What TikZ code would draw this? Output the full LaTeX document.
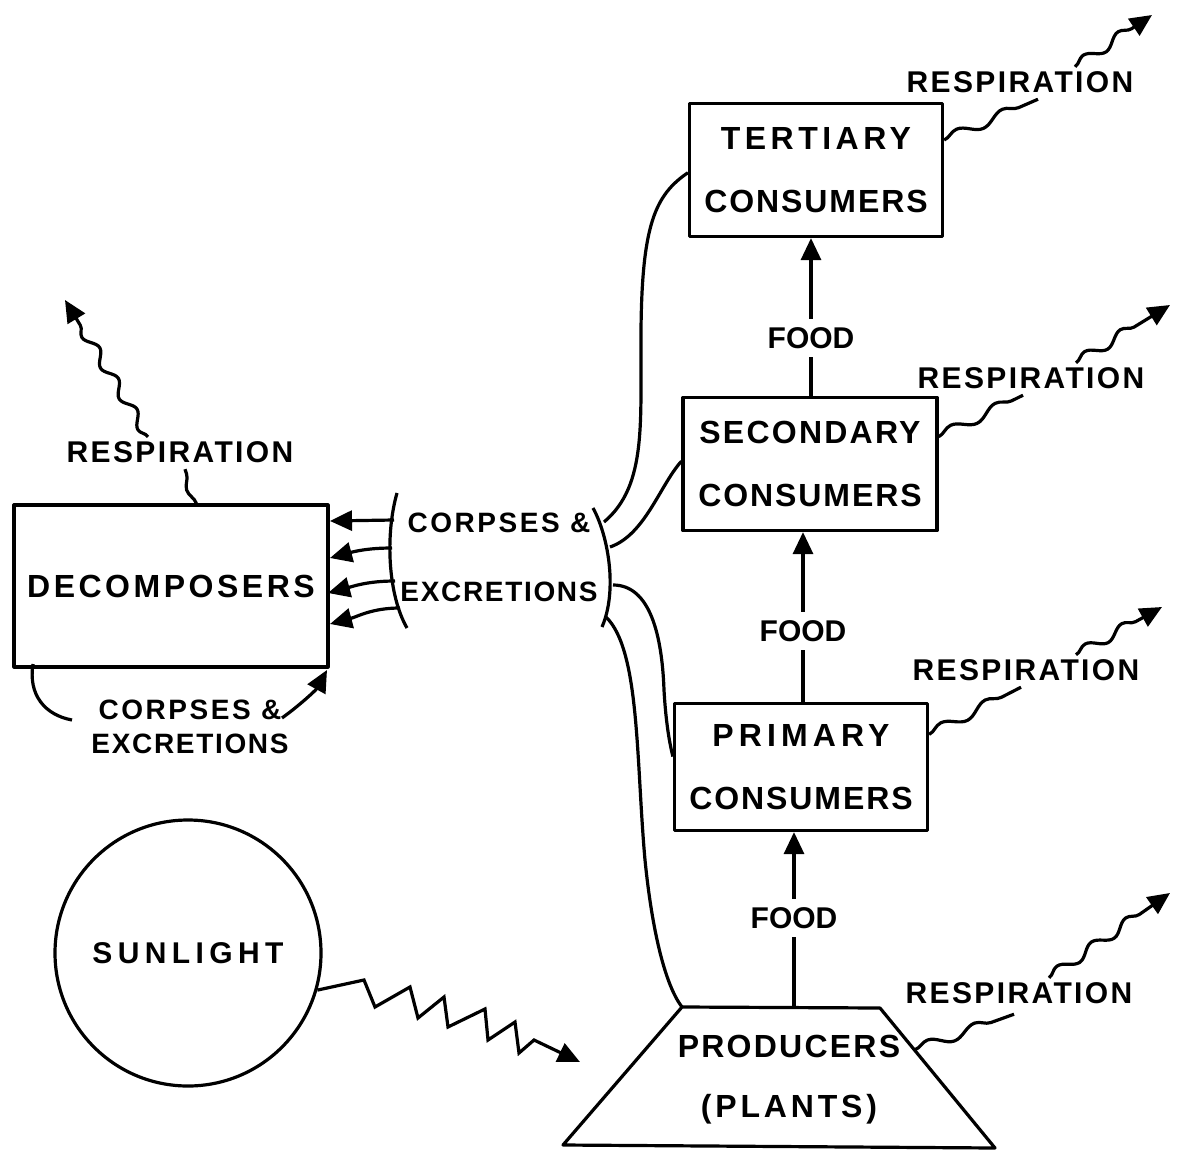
\documentclass[tikz,border=0pt]{standalone}
\usepackage{fontspec}
\setmainfont{Liberation Sans}
\usetikzlibrary{arrows.meta,shapes.geometric,decorations.pathmorphing,calc}
\newcommand{\lsp}[2]{{\addfontfeature{LetterSpace=#1}#2}}
\begin{document}
\begin{tikzpicture}[x=1pt,y=-1pt,line width=3.2pt,line join=round,
  boxnode/.style={draw,rectangle,inner sep=0pt,align=center,
    font=\fontsize{32}{63}\selectfont\bfseries},
  lbl/.style={inner sep=7pt,align=center,font=\fontsize{30}{36}\selectfont\bfseries},
  smalllbl/.style={inner sep=4pt,align=center,font=\fontsize{28}{35}\selectfont\bfseries},
  tip/.style={-{Triangle[length=22pt,width=20pt]}},
  wavy/.style={decorate,decoration={snake,amplitude=5pt,segment length=50pt}},
  wavytip/.style={tip,decorate,decoration={snake,amplitude=5pt,segment length=42pt,post length=22pt}}]
\useasboundingbox (0,0) rectangle (1177,1158);

% boxes
\node[boxnode,minimum width=253pt,minimum height=133pt] (tert) at (816,170)
  {\lsp{14}{TERTIARY}\\\lsp{6}{CONSUMERS}};
\node[boxnode,minimum width=254pt,minimum height=133pt] (sec) at (810,464)
  {\lsp{7}{SECONDARY}\\\lsp{6}{CONSUMERS}};
\node[boxnode,minimum width=253pt,minimum height=127pt] (prim) at (801,767)
  {\lsp{16}{PRIMARY}\\\lsp{6}{CONSUMERS}};
\coordinate (ptl) at (682,1007);
\coordinate (ptr) at (880,1008);
\coordinate (pbr) at (995,1148);
\coordinate (pbl) at (563,1145);
\draw (ptl) -- (ptr) -- (pbr) -- (pbl) -- cycle;
\node[inner sep=0pt,align=center,font=\fontsize{32}{60}\selectfont\bfseries] (prod) at (789,1080)
  {\lsp{7}{PRODUCERS}\\\lsp{12}{(PLANTS)}};
\node[boxnode,minimum width=314pt,minimum height=162pt] (dec) at (171,586)
  {\lsp{11}{DECOMPOSERS}};
\node[draw,circle,minimum size=266pt,inner sep=0pt,
  font=\fontsize{30}{36}\selectfont\bfseries] (sun) at (188,953) {\lsp{18}{SUNLIGHT}};

% food arrows
\node[lbl] (f3) at (811,338) {FOOD};
\node[lbl] (f2) at (803,631) {FOOD};
\node[lbl] (f1) at (794,918) {FOOD};
\draw (f3 |- sec.north) -- (f3);
\draw[tip] (f3) -- (f3 |- tert.south);
\draw (f2 |- prim.north) -- (f2);
\draw[tip] (f2) -- (f2 |- sec.south);
\draw (f1 |- ptl) -- (f1);
\draw[tip] (f1) -- (f1 |- prim.south);

% respiration labels
\node[lbl] (r4) at (1020,82) {\lsp{8}{RESPIRATION}};
\node[lbl] (r3) at (1031,378) {\lsp{8}{RESPIRATION}};
\node[lbl] (r2) at (1026,670) {\lsp{8}{RESPIRATION}};
\node[lbl] (r1) at (1019,993) {\lsp{8}{RESPIRATION}};
\node[lbl] (r0) at (180,452) {\lsp{8}{RESPIRATION}};

\coordinate (t4) at (1152,15);
\coordinate (t3) at (1170,305);
\coordinate (t2) at (1162,607);
\coordinate (t1) at (1170,893);
\coordinate (t0) at (65,300);

\draw[wavy] ($(tert.north east)!0.28!(tert.south east)$) -- ([xshift=18pt,yshift=2pt]r4.south);
\draw[wavytip] ([xshift=55pt,yshift=-4pt]r4.north) -- (t4);
\draw[wavy] ($(sec.north east)!0.3!(sec.south east)$) -- ([xshift=-8pt,yshift=2pt]r3.south);
\draw[wavytip] ([xshift=45pt,yshift=-4pt]r3.north) -- (t3);
\draw[wavy] ($(prim.north east)!0.25!(prim.south east)$) -- ([xshift=-5pt,yshift=2pt]r2.south);
\draw[wavytip] ([xshift=50pt,yshift=-4pt]r2.north) -- (t2);
\draw[wavy] ($(ptr)!0.3!(pbr)$) -- ([xshift=-5pt,yshift=-2pt]r1.south);
\draw[wavytip] ([xshift=30pt,yshift=-4pt]r1.north) -- (t1);
\draw[wavy] ($(dec.north west)!0.58!(dec.north east)$) -- ([xshift=5pt,yshift=2pt]r0.south);
\draw[wavytip,decoration={segment length=36pt}] ([xshift=-32pt,yshift=-4pt]r0.north) -- (t0);

% bracket with corpses and excretions
\node[smalllbl] (ce) at (499,557) {\lsp{9}{CORPSES \&}\\[34pt]\lsp{6}{EXCRETIONS}};
\coordinate (la) at (397,493);
\coordinate (lb) at (407,628);
\coordinate (ra) at (593,508);
\coordinate (rb) at (602,627);
\draw (la) .. controls (385,535) and (388,595) .. (lb);
\draw (ra) .. controls (608,535) and (618,590) .. (rb);

\coordinate (a1) at (394,520);
\coordinate (a2) at (392,548);
\coordinate (a3) at (395,581);
\coordinate (a4) at (400,608);
\coordinate (d1) at (330,521);
\coordinate (d2) at (330,558);
\coordinate (d3) at (328,593);
\coordinate (d4) at (330,624);
\draw[tip] (a1) -- (d1);
\draw[tip] (a2) to[out=180,in=15] (d2);
\draw[tip] (a3) to[out=180,in=15] (d3);
\draw[tip] (a4) to[out=180,in=15] (d4);

% links from consumers/producers to the bracket
\coordinate (c4) at (604,522);
\coordinate (c3) at (610,547);
\coordinate (c2) at (613,585);
\coordinate (c1) at (606,617);
\draw (c4) .. controls (648,485) and (640,420) .. (641,330)
  .. controls (642,225) and (655,195) .. ($(tert.north west)!0.52!(tert.south west)$);
\draw (c3) .. controls (645,535) and (660,485) .. ($(sec.north west)!0.48!(sec.south west)$);
\draw (c2) .. controls (650,585) and (662,635) .. (664,690)
  .. controls (666,725) and (670,745) .. ($(prim.north west)!0.42!(prim.south west)$);
\draw (c1) .. controls (640,650) and (636,760) .. (645,860)
  .. controls (652,930) and (665,985) .. (ptl);

% decomposers self loop
\node[smalllbl] (ce2) at (190,727) {\lsp{9}{CORPSES \&}\\[-1pt]\lsp{6}{EXCRETIONS}};
\coordinate (s1) at (33,664);
\coordinate (s2) at (72,720);
\coordinate (s3) at (282,718);
\coordinate (s4) at (327,670);
\draw (s1) .. controls (28,695) and (45,715) .. (s2);
\draw[tip] (s3) .. controls (300,705) and (316,690) .. (s4);

% sunlight zigzag
\coordinate (z) at (580,1062);
\draw[tip,line join=miter] (sun.-16) -- (364,980) -- (375,1007) -- (410,987) -- (418,1018)
  -- (444,997) -- (448,1027) -- (485,1009) -- (488,1040) -- (515,1022) -- (519,1053)
  -- (534,1040) -- (z);
\end{tikzpicture}
\end{document}
